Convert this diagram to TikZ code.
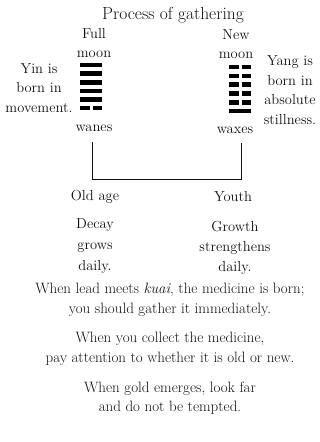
\documentclass[tikz,border=0pt]{standalone}
\usetikzlibrary{positioning,calc}
\definecolor{inkgray}{HTML}{111111}
\tikzset{
  plaintext/.style={
    font=\fontsize{14.5}{19.5}\selectfont, text=inkgray,
    align=center, inner sep=0pt
  },
  versetext/.style={
    plaintext, font=\fontsize{15}{19.5}\selectfont
  },
  yaoline/.style={line width=4.6pt, draw=black},
  bracketline/.style={line width=0.8pt, draw=inkgray},
}
% one hexagram line, solid or split, left end at (x,y)
\newcommand{\solidyao}[2]{\draw[yaoline] (#1,#2) -- ++(22,0);}
\newcommand{\brokenyao}[2]{\draw[yaoline] (#1,#2) -- ++(9.5,0) (#1+12.5,#2) -- ++(9.5,0);}

\begin{document}
\begin{tikzpicture}[x=1pt, y=-1pt]
  \useasboundingbox (0,0) rectangle (320,442);

  \node[plaintext, font=\fontsize{17.5}{20}\selectfont] (title) at (173,15) {Process of gathering};

  % full moon side
  \node[plaintext] (fullmoon) at (94,43) {Full\\moon};
  \foreach \i in {0,...,4} { \solidyao{80}{65+8.6*\i} }
  \brokenyao{80}{108}
  \node[plaintext] (yin) at (39,88) {Yin is\\born in\\movement.};
  \node[plaintext] (wanes) at (94,128) {wanes};

  % new moon side
  \node[plaintext] (newmoon) at (236,44) {New\\moon};
  \foreach \i in {0,...,4} { \brokenyao{229}{67+8.8*\i} }
  \solidyao{229}{111}
  \node[plaintext] (yang) at (290,90) {Yang is\\born in\\absolute\\stillness.};
  \node[plaintext] (waxes) at (235,130) {waxes};

  % bracket joining the two phases
  \coordinate (lefttop) at (92,142);
  \coordinate (righttop) at (241,143);
  \coordinate (leftfoot) at (92,179);
  \draw[bracketline] (lefttop) -- (leftfoot) -| (righttop);

  \node[plaintext] (oldage) at (95,197) {Old age};
  \node[plaintext] (youth) at (233,197) {Youth};
  \node[plaintext, font=\fontsize{14.5}{21}\selectfont] (decay) at (95,246) {Decay\\grows\\daily.};
  \node[plaintext, font=\fontsize{14.5}{20}\selectfont] (growth) at (235,248) {Growth\\strengthens\\daily.};

  % verses
  \node[versetext] (verseone) at (170,300) {When lead meets \emph{kuai}, the medicine is born;\\you should gather it immediately.};
  \node[versetext] (versetwo) at (170,349) {When you collect the medicine,\\pay attention to whether it is old or new.};
  \node[versetext] (versethree) at (170,398) {When gold emerges, look far\\and do not be tempted.};
\end{tikzpicture}
\end{document}
